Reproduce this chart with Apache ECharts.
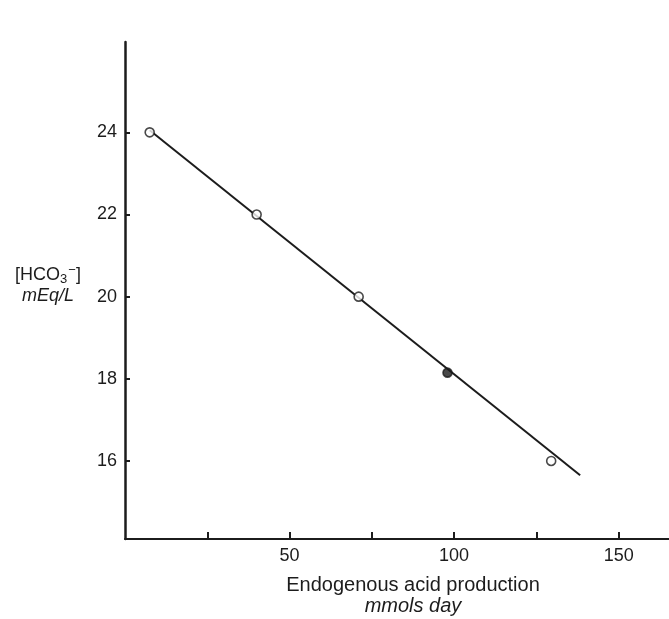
<!DOCTYPE html>
<html>
<head>
<meta charset="utf-8">
<script src="https://cdn.jsdelivr.net/npm/echarts@6/dist/echarts.min.js"></script>
<style>
html,body{margin:0;padding:0;background:#fff;}
#chart{width:669px;height:619px;}
</style>
</head>
<body>
<div id="chart"></div>
<script>
// Data
const acidProduction = [7.5, 40, 71, 98, 129.5];      // mmols/day
const bicarbonate   = [24.0, 22.0, 20.0, 18.15, 16.0]; // mEq/L
const fitX = [7.5, 138.3];
const fitY = [24.05, 15.65];
const xTicks = [25, 50, 75, 100, 125, 150];
const xLabels = [50, 100, 150];
const yTicks = [16, 18, 20, 22, 24];
const filledPoint = 3; // index of the point drawn solid in the reference

const ink = '#1c1c1c';
const font = 'Liberation Sans, Arial, Helvetica, sans-serif';

const chart = echarts.init(document.getElementById('chart'), null, {renderer: 'canvas'});
const points = acidProduction.map((x, i) => ({
  value: [x, bicarbonate[i]],
  itemStyle: i === filledPoint ? {color: ink} : undefined
}));

chart.setOption({
  animation: false,
  backgroundColor: '#fff',
  grid: {left: 125, right: 0, top: 42, bottom: 80, containLabel: false},
  xAxis: {
    type: 'value', min: 0, max: 165.3,
    axisLine: {show: true, lineStyle: {color: ink, width: 2}},
    axisTick: {show: true, inside: true, length: 7, customValues: xTicks, lineStyle: {color: ink, width: 2}},
    axisLabel: {customValues: xLabels, color: ink, fontFamily: font, fontSize: 18, margin: 8},
    splitLine: {show: false}
  },
  yAxis: {
    type: 'value', min: 14.1, max: 26.2,
    axisLine: {show: true, lineStyle: {color: ink, width: 2.5}},
    axisTick: {show: true, inside: true, length: 5, customValues: yTicks, lineStyle: {color: ink, width: 2}},
    axisLabel: {customValues: yTicks, color: ink, fontFamily: font, fontSize: 18, margin: 8},
    splitLine: {show: false}
  },
  graphic: [
    {type: 'text', x: 48, y: 275, style: {
      text: '{n|[HCO}{s|3}{p|−}{n|]}', fill: ink, align: 'center', verticalAlign: 'middle',
      rich: {
        n: {fontFamily: font, fontSize: 18, fill: ink},
        s: {fontFamily: font, fontSize: 13, fill: ink, padding: [9, 0, 0, 0]},
        p: {fontFamily: font, fontSize: 13, fill: ink, padding: [0, 0, 9, 1]}
      }
    }},
    {type: 'text', x: 48, y: 296, style: {
      text: 'mEq/L', fontFamily: font, fontSize: 18, fontStyle: 'italic', fill: ink,
      align: 'center', verticalAlign: 'middle'
    }},
    {type: 'text', x: 413, y: 585, style: {
      text: 'Endogenous acid production', fontFamily: font, fontSize: 20, fill: ink,
      align: 'center', verticalAlign: 'middle'
    }},
    {type: 'text', x: 413, y: 606, style: {
      text: 'mmols day', fontFamily: font, fontSize: 20, fontStyle: 'italic', fill: ink,
      align: 'center', verticalAlign: 'middle'
    }}
  ],
  series: [
    {
      type: 'line', data: fitX.map((x, i) => [x, fitY[i]]),
      showSymbol: false, lineStyle: {color: ink, width: 2}, z: 2, silent: true
    },
    {
      type: 'scatter', data: points, symbol: 'circle', symbolSize: 9,
      itemStyle: {color: '#fff', borderColor: ink, borderWidth: 1.6}, z: 3
    }
  ]
});
</script>
</body>
</html>
